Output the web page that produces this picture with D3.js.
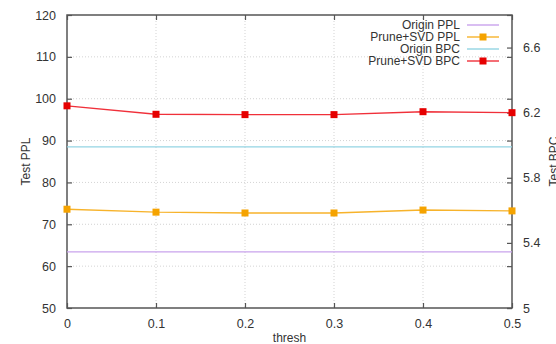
<!DOCTYPE html>
<html>
<head>
<meta charset="utf-8">
<script src="https://cdn.jsdelivr.net/npm/d3@7"></script>
<style>
  body { margin: 0; background: #fff; overflow: hidden; }
  text { font-family: "Liberation Sans", Arial, sans-serif; fill: #333; }
</style>
</head>
<body>
<div id="chart"></div>
<script>
// data
var thresh = [0, 0.1, 0.2, 0.3, 0.4, 0.5];
var originPPL = [63.4, 63.4, 63.4, 63.4, 63.4, 63.4];
var pruneSvdPPL = [73.6, 72.9, 72.7, 72.7, 73.4, 73.2];
var originBPC = [5.99, 5.99, 5.99, 5.99, 5.99, 5.99];
var pruneSvdBPC = [6.242, 6.19, 6.188, 6.188, 6.206, 6.20];

var yTicks = [50, 60, 70, 80, 90, 100, 110, 120];
var y2Ticks = [5, 5.4, 5.8, 6.2, 6.6];
var xTicks = [0, 0.1, 0.2, 0.3, 0.4, 0.5];

var svgWidth = 556;
var svgHeight = 344;
var margin = { top: 15, right: 44, bottom: 36, left: 67 };
var width = svgWidth - margin.left - margin.right;
var height = svgHeight - margin.top - margin.bottom;

var svg = d3.select("#chart").append("svg")
  .attr("width", svgWidth)
  .attr("height", svgHeight);

var g = svg.append("g")
  .attr("transform", `translate(${margin.left}, ${margin.top})`);

var x = d3.scaleLinear().domain([0, 0.5]).range([0, width]);
var y = d3.scaleLinear().domain([50, 120]).range([height, 0]);
var y2 = d3.scaleLinear().domain([5, 6.8]).range([height, 0]);

// dotted grid
g.selectAll(".vgrid").data(xTicks.slice(1, -1)).enter().append("line")
  .attr("x1", d => x(d)).attr("x2", d => x(d))
  .attr("y1", 0).attr("y2", height)
  .attr("stroke", "#c8c8c8").attr("stroke-width", 0.8)
  .attr("stroke-dasharray", "1,2");
g.selectAll(".hgrid").data(yTicks.slice(1, -1)).enter().append("line")
  .attr("x1", 0).attr("x2", width)
  .attr("y1", d => y(d)).attr("y2", d => y(d))
  .attr("stroke", "#c8c8c8").attr("stroke-width", 0.8)
  .attr("stroke-dasharray", "1,2");

// axes with inward ticks
function styleAxis(sel) {
  sel.select(".domain").remove();
  sel.selectAll(".tick line").attr("stroke", "#555").attr("stroke-width", 1.2);
  sel.selectAll(".tick text").style("font-size", "12.5px").attr("fill", "#333");
}

g.append("g").attr("transform", `translate(0, ${height})`)
  .call(d3.axisBottom(x).tickValues(xTicks).tickSizeInner(-5).tickPadding(11)
    .tickFormat(d => d === 0 ? "0" : d3.format(".1f")(d)))
  .call(styleAxis);
g.append("g")
  .call(d3.axisTop(x).tickValues(xTicks).tickSizeInner(-5).tickFormat(""))
  .call(styleAxis);
g.append("g")
  .call(d3.axisLeft(y).tickValues(yTicks).tickSizeInner(-5).tickPadding(11))
  .call(styleAxis);
g.append("g").attr("transform", `translate(${width}, 0)`)
  .call(d3.axisRight(y).tickValues(yTicks).tickSizeInner(-5).tickFormat(""))
  .call(styleAxis);
g.append("g").attr("transform", `translate(${width}, 0)`)
  .call(d3.axisRight(y2).tickValues(y2Ticks).tickSizeInner(-5).tickPadding(11)
    .tickFormat(d => d === 5 ? "5" : d3.format(".1f")(d)))
  .call(styleAxis);

// frame
g.append("rect")
  .attr("width", width).attr("height", height)
  .attr("fill", "none").attr("stroke", "#555").attr("stroke-width", 1.5);

// series
var series = [
  { name: "Origin PPL", values: originPPL, scale: y, color: "#c9a3ec", marker: false },
  { name: "Prune+SVD PPL", values: pruneSvdPPL, scale: y, color: "#f7b32b", marker: "#f5a300" },
  { name: "Origin BPC", values: originBPC, scale: y2, color: "#93d4e3", marker: false },
  { name: "Prune+SVD BPC", values: pruneSvdBPC, scale: y2, color: "#f0303a", marker: "#e60000" }
];

series.forEach(function(s) {
  var line = d3.line()
    .x((d, i) => x(thresh[i]))
    .y(d => s.scale(d));
  g.append("path")
    .datum(s.values)
    .attr("d", line)
    .attr("fill", "none")
    .attr("stroke", s.color)
    .attr("stroke-width", 1.4);
  if (s.marker) {
    g.selectAll(null).data(s.values).enter().append("rect")
      .attr("x", (d, i) => x(thresh[i]) - 3.5)
      .attr("y", d => s.scale(d) - 3.5)
      .attr("width", 7).attr("height", 7)
      .attr("fill", s.marker);
  }
});

// legend
var legend = svg.append("g").attr("transform", "translate(460, 25)");
series.forEach(function(s, i) {
  var row = legend.append("g").attr("transform", `translate(0, ${i * 12})`);
  row.append("text")
    .attr("x", 0).attr("y", 0).attr("dy", "0.35em")
    .attr("text-anchor", "end")
    .style("font-size", "12px")
    .text(s.name);
  row.append("line")
    .attr("x1", 7).attr("x2", 39).attr("y1", 0).attr("y2", 0)
    .attr("stroke", s.color).attr("stroke-width", 1.4);
  if (s.marker) {
    row.append("rect")
      .attr("x", 23 - 3.5).attr("y", -3.5)
      .attr("width", 7).attr("height", 7)
      .attr("fill", s.marker);
  }
});

// axis labels
svg.append("text")
  .attr("transform", `translate(30, ${margin.top + height / 2}) rotate(-90)`)
  .attr("text-anchor", "middle")
  .style("font-size", "12px")
  .text("Test PPL");
svg.append("text")
  .attr("transform", `translate(558, ${margin.top + height / 2}) rotate(-90)`)
  .attr("text-anchor", "middle")
  .style("font-size", "12px")
  .text("Test BPC");
svg.append("text")
  .attr("x", margin.left + width / 2)
  .attr("y", 342)
  .attr("text-anchor", "middle")
  .style("font-size", "12px")
  .text("thresh");
</script>
</body>
</html>
